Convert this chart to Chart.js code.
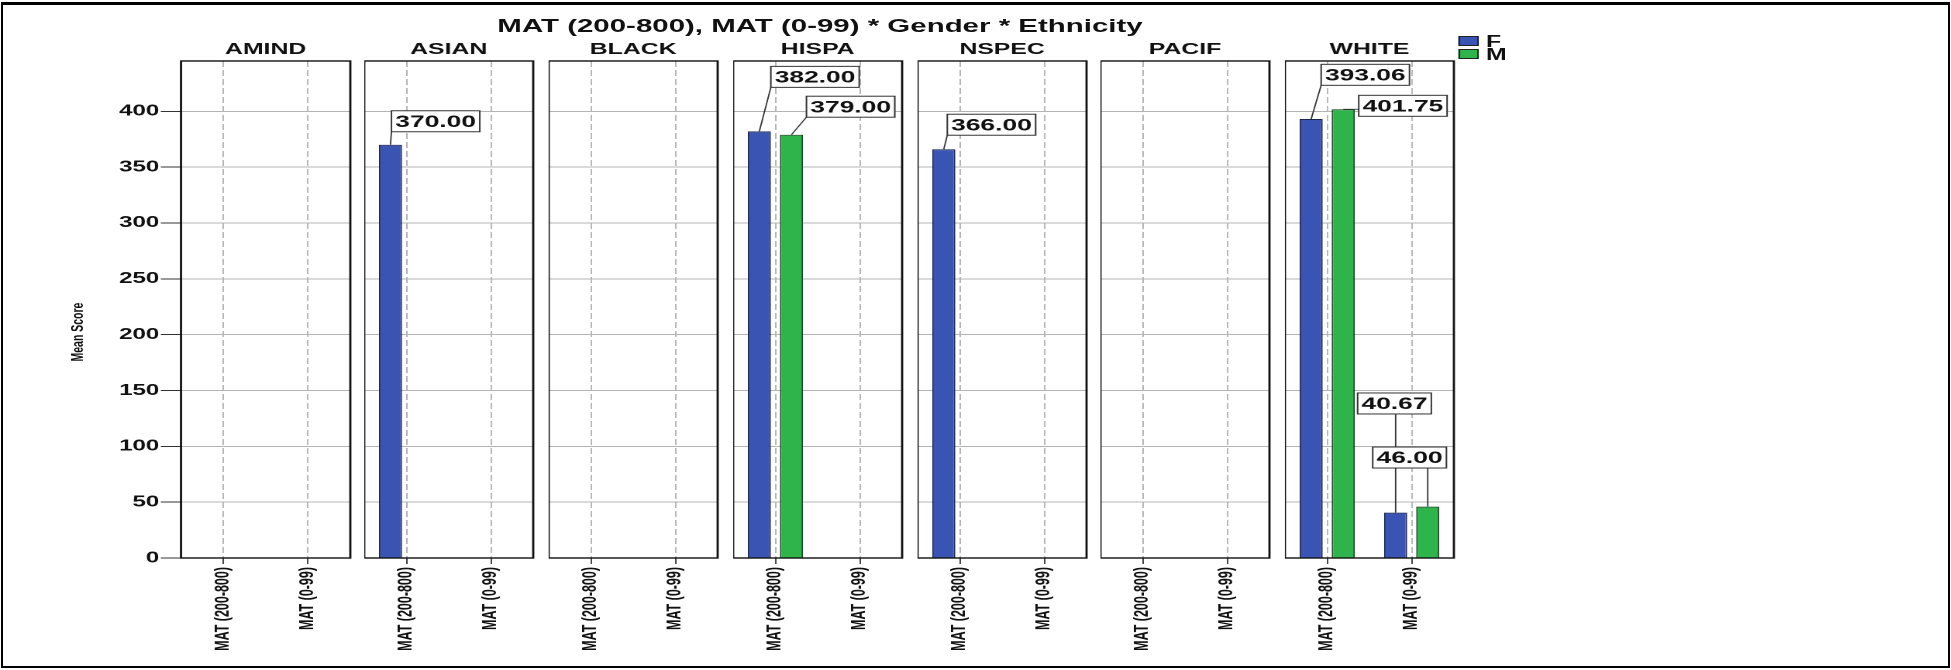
<!DOCTYPE html>
<html>
<head>
<meta charset="utf-8">
<title>MAT (200-800), MAT (0-99) * Gender * Ethnicity</title>
<script src="https://cdn.jsdelivr.net/npm/chart.js@4.4.1/dist/chart.umd.min.js"></script>
<style>
  html, body { margin: 0; padding: 0; background: #fff; overflow: hidden; }
  #page { position: relative; width: 1951px; height: 670px; overflow: hidden; background: #fff; }
  #frame { position: absolute; left: 1px; top: 2px; width: 1949px; height: 666px; box-sizing: border-box;
           border: 2px solid #000; border-top-width: 3px; }
  /* the reference picture is stretched sideways, so the chart is laid out narrow and scaled */
  #stage { position: absolute; left: 0; top: 0; height: 670px; transform-origin: 0 0; }
  #stage canvas { position: absolute; top: 0; }
  .txt { position: absolute; font-family: "Liberation Sans", Arial, sans-serif; font-weight: bold;
         color: #111; white-space: nowrap; line-height: 1; }
  .key { position: absolute; height: 10px; box-sizing: border-box; border: 1px solid #222; }
</style>
</head>
<body>
<div id="page">
  <div id="stage">
    <div class="txt" id="mainTitle" style="top:16px; font-size:19px; transform:translateX(-50%);">MAT (200-800), MAT (0-99) * Gender * Ethnicity</div>
    <div class="txt" id="yTitle" style="font-size:10.5px; transform:translate(-50%,-50%) rotate(-90deg);">Mean Score</div>
    <div class="key" id="keyF"></div>
    <div class="txt legend" id="textF" style="top:34px; font-size:16px;">F</div>
    <div class="key" id="keyM"></div>
    <div class="txt legend" id="textM" style="top:47px; font-size:16px;">M</div>
  </div>
  <div id="frame"></div>
</div>
<script>
const ethnicities = ['AMIND', 'ASIAN', 'BLACK', 'HISPA', 'NSPEC', 'PACIF', 'WHITE'];
const measures = ['MAT (200-800)', 'MAT (0-99)'];
const genders = ['F', 'M'];
// mean score per ethnicity: [MAT (200-800), MAT (0-99)]
const femaleMeans = [[null, null], [370.00, null], [null, null], [382.00, null], [366.00, null], [null, null], [393.06, 40.67]];
const maleMeans   = [[null, null], [null, null], [null, null], [379.00, null], [null, null], [null, null], [401.75, 46.00]];
const yTicks = [0, 50, 100, 150, 200, 250, 300, 350, 400];
const yMax = 445;

// where each value box sits: [box left from bar centre, box bottom from bar top], reference px
const labelSpots = {
  'ASIAN-F-0': [1, -13],
  'HISPA-F-0': [11.5, -44],
  'HISPA-M-0': [15, -17.5],
  'NSPEC-F-0': [3.5, -14],
  'WHITE-F-0': [10, -33.7],
  'WHITE-M-0': [15.5, 7],
  'WHITE-F-1': [-38, -98.6],
  'WHITE-M-1': [-55, -38.6],
};

const S = 1.55;                      // sideways stretch of the reference
const FONT = '"Liberation Sans", Arial, sans-serif';
const BLUE = '#3a54b4', GREEN = '#2fb44b';
const panelLeft0 = 181, panelPitch = 184, panelWidth = 169;   // reference px
const plotBottom = 558, pageH = 670;
const yAxisW = panelLeft0 / S;
const padRight = 8;

const stage = document.getElementById('stage');
stage.style.width = (1951 / S) + 'px';
stage.style.transform = 'scaleX(' + S + ')';
document.getElementById('mainTitle').style.left = (820 / S) + 'px';
const yTitle = document.getElementById('yTitle');
yTitle.style.left = (78 / S) + 'px';
yTitle.style.top = '332px';
[['keyF', BLUE, 36], ['keyM', GREEN, 49]].forEach(([id, c, top]) => {
  const el = document.getElementById(id);
  el.style.left = (1459 / S) + 'px';
  el.style.width = (20 / S) + 'px';
  el.style.top = top + 'px';
  el.style.background = c;
});
document.querySelectorAll('.legend').forEach((el) => { el.style.left = (1486 / S) + 'px'; });

const panelFrame = {
  id: 'panelFrame',
  afterDatasetsDraw(chart) {
    const { ctx, chartArea: a } = chart;
    ctx.save();
    ctx.strokeStyle = '#111';
    ctx.lineWidth = 1.4;
    ctx.strokeRect(a.left, a.top, a.right - a.left, a.bottom - a.top);
    ctx.restore();
  }
};

const valueBoxes = {
  id: 'valueBoxes',
  afterDraw(chart, args, opts) {
    const { ctx } = chart;
    ctx.save();
    ctx.font = 'bold 17px ' + FONT;
    chart.data.datasets.forEach((ds, di) => {
      const meta = chart.getDatasetMeta(di);
      meta.data.forEach((bar, i) => {
        const v = ds.data[i];
        if (v == null) return;
        const spot = labelSpots[opts.name + '-' + ds.label + '-' + i] || [0, -14];
        const text = v.toFixed(2);
        const w = ctx.measureText(text).width + 5;
        const h = 21;
        const left = bar.x + spot[0] / S;
        const bottom = bar.y + spot[1];
        const top = bottom - h;
        const ax = Math.min(Math.max(bar.x, left), left + w);
        const ay = Math.min(Math.max(bar.y, top), bottom);
        ctx.strokeStyle = '#333';
        ctx.lineWidth = 0.9;
        ctx.beginPath();
        ctx.moveTo(bar.x, bar.y);
        ctx.lineTo(ax, ay);
        ctx.stroke();
        ctx.fillStyle = '#fff';
        ctx.fillRect(left, top, w, h);
        ctx.lineWidth = 1;
        ctx.strokeRect(left, top, w, h);
        ctx.fillStyle = '#111';
        ctx.textBaseline = 'middle';
        ctx.textAlign = 'left';
        ctx.fillText(text, left + 2.5, top + h / 2 + 1);
      });
    });
    ctx.restore();
  }
};

ethnicities.forEach((eth, k) => {
  const first = k === 0;
  const left = (panelLeft0 + panelPitch * k) / S - (first ? yAxisW : 0);
  const w = Math.round(panelWidth / S + (first ? yAxisW : 0) + padRight);
  const cv = document.createElement('canvas');
  cv.width = w;
  cv.height = pageH;
  cv.style.left = left + 'px';
  cv.style.width = w + 'px';
  cv.style.height = pageH + 'px';
  stage.appendChild(cv);

  new Chart(cv, {
    type: 'bar',
    data: {
      labels: measures,
      datasets: [
        { label: genders[0], data: femaleMeans[k], backgroundColor: BLUE, borderColor: '#1c2755',
          borderWidth: 1, barPercentage: 0.72, categoryPercentage: 0.76 },
        { label: genders[1], data: maleMeans[k], backgroundColor: GREEN, borderColor: '#1b4a25',
          borderWidth: 1, barPercentage: 0.72, categoryPercentage: 0.76 },
      ],
    },
    options: {
      responsive: false,
      animation: false,
      devicePixelRatio: 2,
      layout: { padding: { left: 0, right: padRight, top: 0, bottom: 0 } },
      plugins: {
        legend: { display: false },
        tooltip: { enabled: false },
        title: {
          display: true, text: eth, fullSize: false, color: '#111',
          font: { family: FONT, size: 16, weight: 'bold', lineHeight: 1.2 },
          padding: { top: 40, bottom: 1.8 },
        },
        valueBoxes: { name: eth },
      },
      scales: {
        x: {
          ticks: { minRotation: 90, maxRotation: 90, autoSkip: false, color: '#111', padding: 3,
                   font: { family: FONT, size: 12.5, weight: 'bold' } },
          grid: { offset: false, color: '#999', lineWidth: 0.7, tickColor: '#333',
                  tickLength: 6, tickWidth: 0.9, tickBorderDash: [] },
          border: { display: false, dash: [6, 3] },
          afterFit: (s) => { s.height = pageH - plotBottom; },
        },
        y: {
          min: 0,
          max: yMax,
          afterBuildTicks: (s) => { s.ticks = yTicks.map((v) => ({ value: v })); },
          ticks: { display: first, color: '#111', padding: 1,
                   font: { family: FONT, size: 15.5, weight: 'bold' } },
          grid: { color: '#b4b4b4', lineWidth: 1, drawTicks: first, tickLength: 13, tickColor: '#333' },
          border: { display: false },
          afterFit: (s) => { s.width = first ? yAxisW : 0; },
        },
      },
    },
    plugins: [panelFrame, valueBoxes],
  });
});
</script>
</body>
</html>
